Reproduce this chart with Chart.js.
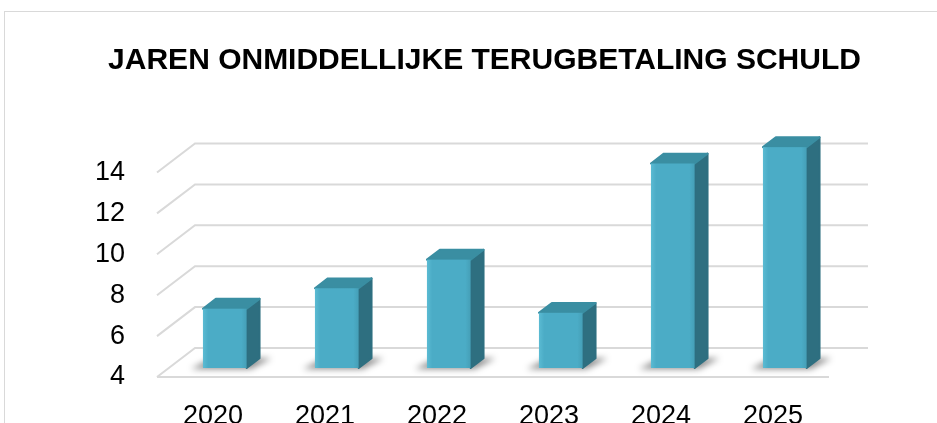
<!DOCTYPE html>
<html lang="nl">

<head>
    <meta charset="UTF-8">
    <title>Jaren onmiddellijke terugbetaling schuld</title>
    <script src="https://cdn.jsdelivr.net/npm/chart.js@4.4.3/dist/chart.umd.min.js"></script>
    <style>
        html, body { margin: 0; padding: 0; background: #fff; overflow: hidden; }
        .frame {
            position: absolute; left: 4px; top: 11px; width: 1000px; height: 1000px;
            border-top: 1px solid #d9d9d9; border-left: 1px solid #d9d9d9;
        }
        #chart { position: absolute; left: 0; top: 0; }
    </style>
</head>

<body>
    <div class="frame"></div>
    <canvas id="chart" width="937" height="433"></canvas>

    <script>
        // chart data
        const years = ['2020', '2021', '2022', '2023', '2024', '2025'];
        const jaren = [6.9, 7.9, 9.3, 6.7, 14.0, 14.8];
        const yTicks = [4, 6, 8, 10, 12, 14];

        // fake 3D: back wall offset and where the bars sit in depth
        const wallDX = 38, wallDY = -29;
        const barFront = 0.31; // fraction of the depth
        const barDepth = 0.34;

        const frontColor = '#4bacc6';
        const sideColor = '#2e6f80';
        const topColor = '#3a8ea2';
        const gridColor = '#d9d9d9';
        const tickFont = { family: '"Liberation Sans", Arial, sans-serif', size: 27 };

        const wallPlugin = {
            id: 'wall3d',
            beforeDatasetsDraw(chart) {
                const ctx = chart.ctx;
                const x = chart.scales.x, y = chart.scales.y;
                ctx.save();
                ctx.strokeStyle = gridColor;
                ctx.lineWidth = 2;
                yTicks.forEach(v => {
                    const py = y.getPixelForValue(v);
                    ctx.beginPath();
                    ctx.moveTo(x.left, py);
                    ctx.lineTo(x.left + wallDX, py + wallDY);
                    ctx.lineTo(x.right + wallDX + 1, py + wallDY);
                    ctx.stroke();
                });
                // front edge of the floor
                const py0 = y.getPixelForValue(y.min);
                ctx.beginPath();
                ctx.moveTo(x.left, py0);
                ctx.lineTo(x.right, py0);
                ctx.stroke();
                ctx.restore();
            },
            afterDatasetsDraw(chart) {
                const ctx = chart.ctx;
                const y = chart.scales.y;
                const meta = chart.getDatasetMeta(0);
                const fx = wallDX * barFront, fy = wallDY * barFront;
                const dx = wallDX * barDepth, dy = wallDY * barDepth;
                const basePx = y.getPixelForValue(y.min);
                ctx.save();
                meta.data.forEach(el => {
                    const w = el.width;
                    const x0 = el.x - w / 2 + fx, x1 = x0 + w;
                    const top = el.y + fy, bottom = basePx + fy;

                    // shadow on the floor
                    ctx.save();
                    ctx.filter = 'blur(3px)';
                    ctx.fillStyle = 'rgba(0,0,0,0.45)';
                    ctx.beginPath();
                    ctx.moveTo(x0 - 12, bottom + 1);
                    ctx.lineTo(x1 + 4, bottom + 1);
                    ctx.lineTo(x1 + dx + 12, bottom + dy);
                    ctx.lineTo(x0 + dx - 4, bottom + dy);
                    ctx.closePath();
                    ctx.fill();
                    ctx.restore();

                    ctx.lineJoin = 'round';
                    ctx.lineWidth = 2;

                    // side face
                    ctx.fillStyle = sideColor;
                    ctx.strokeStyle = sideColor;
                    ctx.beginPath();
                    ctx.moveTo(x1, top);
                    ctx.lineTo(x1 + dx, top + dy);
                    ctx.lineTo(x1 + dx, bottom + dy);
                    ctx.lineTo(x1, bottom);
                    ctx.closePath();
                    ctx.fill();
                    ctx.stroke();

                    // top face
                    ctx.fillStyle = topColor;
                    ctx.strokeStyle = topColor;
                    ctx.beginPath();
                    ctx.moveTo(x0, top);
                    ctx.lineTo(x0 + dx, top + dy);
                    ctx.lineTo(x1 + dx, top + dy);
                    ctx.lineTo(x1, top);
                    ctx.closePath();
                    ctx.fill();
                    ctx.stroke();

                    // front face with a soft edge highlight
                    const g = ctx.createLinearGradient(x0, 0, x1, 0);
                    g.addColorStop(0, '#5bbbd3');
                    g.addColorStop(0.12, frontColor);
                    g.addColorStop(0.88, frontColor);
                    g.addColorStop(1, '#459fb7');
                    ctx.fillStyle = g;
                    ctx.fillRect(x0, top, w, bottom - top);
                });
                ctx.restore();
            }
        };

        const config = {
            type: 'bar',
            data: {
                labels: years,
                datasets: [{
                    label: 'Jaren',
                    data: jaren,
                    backgroundColor: 'rgba(0,0,0,0)',
                    borderWidth: 0,
                    categoryPercentage: 1,
                    barPercentage: 0.39,
                    clip: false
                }]
            },
            options: {
                responsive: false,
                animation: false,
                layout: { padding: { left: 32, right: 0, top: 0, bottom: 0 } },
                scales: {
                    x: {
                        grid: { display: false, drawTicks: false },
                        border: { display: false },
                        afterFit(scale) { scale.height = 56; },
                        ticks: { padding: 23, color: '#000', font: tickFont, maxRotation: 0 }
                    },
                    y: {
                        min: 4,
                        max: 14,
                        grid: { display: false, drawTicks: false },
                        border: { display: false },
                        afterFit(scale) { scale.width = 125; },
                        ticks: { stepSize: 2, autoSkip: false, padding: 32, color: '#000', font: tickFont }
                    },
                    // empty axis that only keeps room on the right
                    spacer: {
                        type: 'linear',
                        position: 'right',
                        grid: { display: false, drawTicks: false },
                        border: { display: false },
                        ticks: { display: false },
                        afterFit(scale) { scale.width = 108; }
                    }
                },
                plugins: {
                    legend: { display: false },
                    tooltip: { enabled: false },
                    title: {
                        display: true,
                        text: 'JAREN ONMIDDELLIJKE TERUGBETALING SCHULD',
                        color: '#000',
                        font: { family: '"Liberation Sans", Arial, sans-serif', size: 30, weight: 'bold', lineHeight: 1.2 },
                        padding: { top: 43, bottom: 93.5 }
                    }
                }
            },
            plugins: [wallPlugin]
        };

        const mychart = new Chart(document.getElementById('chart'), config);
    </script>
</body>

</html>
